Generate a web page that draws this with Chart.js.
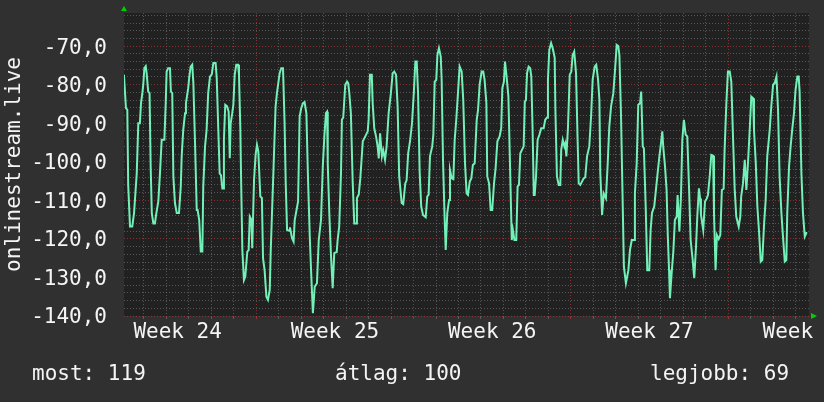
<!DOCTYPE html>
<html lang="hu">
<head>
<meta charset="utf-8">
<title>onlinestream.live</title>
<script src="https://cdn.jsdelivr.net/npm/chart.js@4/dist/chart.umd.min.js"></script>
<style>
  html, body { margin:0; padding:0; background:#303030; }
  #wrap { position:relative; width:824px; height:402px; }
  canvas { display:block; }
</style>
</head>
<body>
<div id="wrap"><canvas id="graph" width="824" height="402"></canvas></div>
<script>
// time in days counted from the start of week 24
const days = [
  1.11,1.20,1.26,1.30,1.38,1.48,1.56,1.68,1.75,1.82,1.87,1.93,1.97,2.02,2.08,2.12,2.19,2.25,2.30,2.35,2.42,2.49,2.54,2.64,2.71,2.79,2.91,2.97,3.01,3.08,3.16,3.20,3.26,3.31,3.38,3.46,3.56,3.64,3.68,3.75,3.83,3.87,3.97,4.02,4.08,4.15,4.20,4.27,4.35,4.39,4.46,4.53,4.60,4.64,4.72,4.79,4.86,4.94,5.02,5.09,5.19,5.24,5.31,
  5.37,5.43,5.49,5.52,5.56,5.62,5.70,5.77,5.82,5.86,5.93,5.98,6.04,6.11,6.19,6.23,6.29,6.33,6.38,6.45,6.51,6.60,6.66,6.71,6.78,6.82,6.90,6.97,7.03,7.09,7.18,7.25,7.30,7.37,7.45,7.52,7.60,7.64,7.70,7.77,7.86,7.92,7.98,8.04,8.11,8.19,8.26,8.31,8.37,8.46,8.50,8.59,8.66,8.71,8.78,8.86,8.93,9.00,9.08,9.15,9.23,9.30,9.38,9.45,9.52,9.60,9.70,
  9.78,9.88,9.96,10.03,10.10,10.15,10.18,10.25,10.32,10.40,10.47,10.58,10.62,10.69,10.77,10.81,10.87,10.96,11.04,11.09,11.14,11.21,11.29,11.36,11.44,11.48,11.56,11.63,11.74,11.85,11.96,12.00,12.06,12.14,12.18,12.25,12.33,12.40,12.45,12.51,12.59,12.65,12.73,12.80,12.89,12.99,13.07,13.14,13.22,13.29,13.36,13.47,13.54,13.63,13.69,13.76,13.85,13.93,14.01,14.08,
  14.14,14.20,14.27,14.34,14.42,14.54,14.61,14.67,14.73,14.83,14.88,14.94,15.01,15.06,15.13,15.21,15.25,15.31,15.38,15.43,15.50,15.58,15.62,15.70,15.77,15.83,15.90,15.99,16.05,16.14,16.21,16.29,16.36,16.42,16.50,16.57,16.64,16.72,16.81,16.87,16.94,17.03,17.10,17.16,17.24,17.28,17.36,17.43,17.50,17.58,17.65,17.73,17.83,17.90,17.95,18.02,18.07,18.14,18.22,18.29,18.37,18.42,
  18.49,18.57,18.63,18.69,18.75,18.90,18.95,19.00,19.05,19.12,19.19,19.24,19.30,19.35,19.39,19.45,19.52,19.60,19.68,19.79,19.86,19.94,19.98,20.04,20.12,20.19,20.28,20.31,20.38,20.46,20.53,20.57,20.64,20.71,20.75,20.80,20.87,20.95,21.02,21.08,21.15,21.23,21.30,21.35,21.42,21.57,21.64,21.72,21.82,21.90,21.97,22.06,22.13,22.21,22.27,22.31,22.39,22.46,22.56,22.64,22.71,22.79,
  22.89,22.96,23.04,23.11,23.16,23.23,23.29,23.36,23.45,23.56,23.63,23.71,23.81,23.85,23.93,24.00,24.08,24.13,24.20,24.25,24.33,24.40,24.49,24.55,24.61,24.71,24.77,24.86,24.94,25.01,25.07,25.11,25.19,25.26,25.31,25.37,25.41,25.49,25.56,25.63,25.71,25.75,25.83,25.90,25.96,26.03,26.11,26.18,26.26,26.33,26.42,26.49,26.57,26.63,26.70,26.75,26.79,26.89,26.97,27.05,27.10,27.18,
  27.25,27.33,27.37,27.44,27.50,27.58,27.65,27.72,27.80,27.84,27.92,27.99,28.07,28.14,28.22,28.29,28.36,28.47,28.54,28.58,28.66,28.74,28.81,28.89,28.96,29.03,29.11,29.15,29.23,29.30,29.37,29.45,29.52,29.60,29.67,29.74,29.85,29.92,30.00,30.07,30.15,30.22,30.29,30.37,30.44,30.52,30.59,30.63,30.71,30.78,30.85,30.93,31.00,31.08,31.14,31.18,31.26,31.33,31.41,31.48,31.52
];
const signal = [
  -77.4,-86.1,-86.5,-106,-116.8,-116.8,-113.3,-103,-90,-90,-84.8,-82.2,-80,-75.7,-75.2,-77,-81.8,-82.2,-101.2,-113.3,-116,-116,-113.8,-110.3,-103.4,-94.3,-94.3,-84.8,-76.6,-75.7,-75.7,-81.8,-82.2,-103.8,-110.7,-113.3,-113.3,-106.4,-98.6,-91.7,-87.4,-84.8,-80.9,-77.9,-75.3,-74.8,-79.6,-94.3,-112.5,-112.5,-115.1,-123.3,-123.3,-106.4,-96,-91.7,-82.2,-77.9,-77.3,-74.4,-74.4,-78.3,-91.7,
  -103,-103.5,-106.9,-106.9,-94.3,-85.2,-85.6,-87,-99.1,-90,-87.4,-85.2,-77.4,-74.8,-74.8,-77.4,-91.3,-106.4,-122.9,-130.7,-129.8,-123.3,-122.9,-114.2,-115,-122.4,-104.7,-98.2,-95.6,-97.3,-109,-109.4,-125,-128.1,-135,-135.8,-133.2,-123.7,-113.3,-101.2,-85.6,-82.2,-79.6,-77,-75.7,-75.7,-90,-105.6,-117.7,-117.9,-117,-119.8,-120.7,-115.1,-112.9,-110.3,-88.2,-86.1,-84.8,-84.5,-87.4,-103.8,-119.4,-129.8,-139.3,-132.4,-131.5,
  -120.3,-115.1,-101.2,-93.4,-87.4,-87,-100.4,-113.3,-123.7,-132.8,-123.7,-123.4,-120.3,-116.8,-103,-89.1,-88.5,-80,-79.2,-79.6,-82.2,-87.4,-105.1,-116,-116,-109.4,-108.5,-104.3,-94.7,-93.4,-92.1,-89,-77.4,-77.4,-84.8,-91.3,-93.4,-96,-99.1,-92.6,-98.6,-97,-99.5,-96,-87.4,-82.2,-77,-76.6,-77.4,-85.6,-103.8,-110.7,-111,-105.6,-104.8,-97.8,-94.3,-90,-82.2,-74,
  -74,-82.2,-102.5,-111.6,-113.8,-114.4,-109,-108.5,-98.6,-96,-93,-79.2,-78.8,-72.3,-70.5,-72.7,-78.7,-99.5,-114.2,-122.9,-113.3,-109.9,-102.1,-104.3,-104.5,-94.3,-89.1,-80.9,-75.3,-76.6,-83.9,-100.4,-108.2,-108.6,-105.1,-104.3,-100.8,-100.4,-89.1,-86.5,-80,-76.6,-76.6,-78.7,-84.8,-103.8,-105.6,-112.5,-112.5,-105.6,-101.7,-94.7,-93.4,-91.3,-80.9,-79.2,-74,-77.9,-83.1,-100.4,-120.3,-117.7,
  -120.3,-120.3,-106.4,-106,-97.8,-96,-84.4,-84,-77,-75.3,-75.7,-77.9,-92.6,-108.6,-108.6,-103.8,-94.3,-93,-91.3,-91.3,-89.1,-88.5,-78.7,-71,-69.2,-70.5,-73,-86.1,-103.8,-106,-106,-96.9,-94.3,-96,-95.3,-98.6,-91.3,-77.4,-76.6,-72.3,-71.4,-77,-94.3,-105.6,-106,-104.3,-104,-98.6,-96,-88.2,-78.7,-75.3,-74.8,-78.7,-83.9,-103,-113.8,-108.2,-109.5,-100.4,-90.9,-85.6,
  -82.2,-76.6,-69.7,-70,-72.3,-87.4,-105.6,-127.2,-131.5,-128.1,-122.9,-120.3,-120.3,-108.2,-100.4,-85.2,-84.8,-81.8,-96,-96.5,-111.6,-128.1,-128.1,-117.7,-113.3,-111.6,-108.2,-103,-98.6,-95.2,-92.1,-96,-101.2,-107.3,-118.5,-128.1,-135.4,-128.5,-123.3,-115.1,-114.2,-108.6,-118.1,-109,-94.3,-89.1,-93,-93.4,-106.9,-120.3,-125.4,-130.2,-122,-113.8,-106.9,-109.5,-113.8,-117.7,-110.3,-109.5,-108.6,-103.8,
  -98.2,-98.4,-113.3,-128.1,-119,-120,-119,-107.3,-107,-97.3,-84.8,-76.6,-76.6,-79.2,-94.3,-106.9,-114.2,-116.8,-114.2,-109,-105.6,-99.5,-107.3,-99.5,-91.7,-83.1,-83.5,-91.7,-100.4,-111.6,-117.7,-125.9,-125.5,-116,-109.9,-98.6,-91.7,-85.6,-80,-79.6,-77.9,-86.5,-103.8,-113.3,-119.4,-125.9,-125.5,-113.3,-101.2,-96,-91.7,-87.4,-81.3,-77.9,-77.9,-81.8,-103,-113.3,-119.4,-118.5,-118.5
];
const firstWeek = 24;
const xRange = [1.113, 31.598];
const yRange = [-140, -61.4];
const statNames = ['most', 'átlag', 'legjobb'];
const statValues = [119, 100, 69];
const statX = [32, 335, 650];

const FONT = 'DejaVu Sans Mono';
const minorGrid = 'rgba(130,130,130,0.55)';
const majorGrid = 'rgba(190,60,60,0.65)';

if (days.length !== signal.length) console.error('length mismatch', days.length, signal.length);

const dressing = {
  id: 'dressing',
  beforeDraw(chart) {
    const {ctx, chartArea: a} = chart;
    ctx.save();
    ctx.fillStyle = '#212121';
    ctx.fillRect(a.left, a.top, a.right - a.left, a.bottom - a.top);
    ctx.restore();
  },
  afterDraw(chart) {
    const {ctx, chartArea: a} = chart;
    ctx.save();
    // axis arrows
    ctx.fillStyle = '#00d000';
    ctx.beginPath();
    ctx.moveTo(a.left - 3, a.top - 2); ctx.lineTo(a.left + 3, a.top - 2); ctx.lineTo(a.left, a.top - 7);
    ctx.closePath(); ctx.fill();
    ctx.beginPath();
    ctx.moveTo(a.right + 2, a.bottom - 3); ctx.lineTo(a.right + 2, a.bottom + 3); ctx.lineTo(a.right + 8, a.bottom);
    ctx.closePath(); ctx.fill();
    // summary line
    ctx.fillStyle = '#f4f4f4';
    ctx.font = '21px "' + FONT + '"';
    ctx.textBaseline = 'alphabetic';
    statNames.forEach((n, i) => ctx.fillText(n + ': ' + statValues[i], statX[i], 380));
    ctx.restore();
  }
};

new Chart(document.getElementById('graph'), {
  type: 'scatter',
  data: {
    datasets: [{
      data: days.map((d, i) => ({x: d, y: signal[i]})),
      showLine: true,
      borderColor: '#72f0b8',
      borderWidth: 2,
      pointRadius: 0,
      tension: 0
    }]
  },
  options: {
    responsive: false,
    animation: false,
    devicePixelRatio: 1,
    layout: { padding: { top: 13, right: 15, bottom: 46, left: 0 } },
    plugins: { legend: { display: false }, tooltip: { enabled: false } },
    scales: {
      x: {
        type: 'linear',
        min: xRange[0], max: xRange[1],
        afterBuildTicks(s) {
          const t = [];
          for (let d = Math.ceil(xRange[0]); d <= xRange[1]; d++) t.push({value: d});
          s.ticks = t;
        },
        afterFit(s) { s.height = 40; s.paddingLeft = 0; s.paddingRight = 0; },
        grid: {
          color: c => (c.tick && c.tick.value % 7 === 0) ? majorGrid : minorGrid,
          drawTicks: true, tickLength: 3, lineWidth: 1
        },
        border: { display: false, dash: [1, 2] },
        ticks: {
          autoSkip: false, maxRotation: 0, padding: 1,
          labelOffset: 11.24,
          color: '#f4f4f4',
          font: { family: FONT, size: 21 },
          callback: v => (v % 7 === 3) ? 'Week ' + (firstWeek + Math.floor(v / 7)) : ''
        }
      },
      y: {
        min: yRange[0], max: yRange[1],
        afterBuildTicks(s) {
          const t = [];
          for (let v = yRange[0]; v < yRange[1]; v += 2) t.push({value: v});
          s.ticks = t;
        },
        afterFit(s) { s.width = 124; s.paddingTop = 0; s.paddingBottom = 0; },
        grid: {
          color: c => (c.tick && c.tick.value % 10 === 0) ? majorGrid : minorGrid,
          drawTicks: false, lineWidth: 1
        },
        border: { display: false, dash: [1, 2] },
        title: {
          display: true, text: 'onlinestream.live', color: '#f4f4f4',
          font: { family: FONT, size: 21 }, padding: { top: 2, bottom: 0 }
        },
        ticks: {
          autoSkip: false, padding: 17, labelOffset: 2,
          color: '#f4f4f4',
          font: { family: FONT, size: 21 },
          callback: v => (v % 10 === 0) ? v.toFixed(1).replace('.', ',') : ''
        }
      }
    }
  },
  plugins: [dressing]
});
</script>
</body>
</html>
